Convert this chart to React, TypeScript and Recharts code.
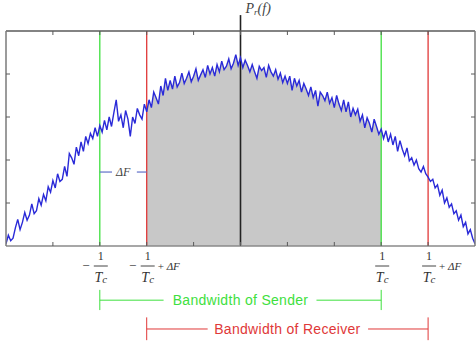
import React from "react";
import {
  ComposedChart,
  Area,
  Line,
  XAxis,
  YAxis,
  ReferenceLine,
  ReferenceDot,
} from "recharts";

// frequency axis: -5 .. 5 in steps of 0.05
const FREQ_START = -5;
const FREQ_STEP = 0.05;

// received power spectrum P_r(f)
const POWER = [
  0.05, 0.25, 0.12, 0.18, 0.42,
  0.62, 0.38, 0.55, 0.78, 0.6,
  0.72, 0.98, 0.75, 0.82, 1.1,
  0.95, 1.2, 1.05, 1.38, 1.25,
  1.52, 1.35, 1.68, 1.5, 1.55,
  1.85, 1.62, 2.15, 2.05, 1.9,
  2.3, 2.1, 2.42, 2.2, 2.55,
  2.38, 2.62, 2.5, 2.75, 2.55,
  2.8, 2.65, 2.92, 2.7, 3.0,
  2.78, 3.1, 3.4, 2.9, 3.05,
  2.75, 3.15, 2.95, 2.55, 3.0,
  2.85, 3.2, 3.05, 2.95, 3.3,
  3.12, 3.4, 3.22, 3.58, 3.45,
  3.3, 3.72, 3.5, 3.9, 3.62,
  3.85, 3.65, 3.95, 3.7, 3.8,
  4.02, 3.78, 3.9, 4.05, 3.82,
  3.95, 4.12, 3.85, 3.98, 4.1,
  3.92, 4.2, 4.0, 4.15, 3.95,
  4.22, 4.05, 4.3, 4.1, 4.18,
  4.35, 4.12, 4.25, 4.45, 4.2,
  4.38, 4.15, 4.32, 4.2, 4.05,
  4.22, 4.05, 3.9, 4.18, 4.08,
  4.15, 3.92, 4.2, 4.05, 3.95,
  4.1, 3.88, 4.02, 3.8, 3.95,
  3.78, 3.95, 3.62, 3.9, 3.72,
  3.85, 3.58, 3.78, 3.65, 3.5,
  3.7, 3.45, 3.62, 3.25, 3.58,
  3.5, 3.38, 3.58, 3.32, 3.45,
  3.22, 3.5, 3.3, 3.15, 3.4,
  3.12, 3.35, 3.0, 3.2, 3.05,
  3.18, 2.9, 3.05, 2.75, 2.98,
  2.85, 2.65, 2.95, 2.78, 2.6,
  2.72, 2.5, 2.68, 2.42, 2.6,
  2.35, 2.55, 2.2, 2.45, 2.25,
  2.1, 2.28, 1.98, 2.05, 1.88,
  2.0, 1.8, 1.72, 1.85, 1.68,
  1.6, 1.5, 1.55, 1.35, 1.42,
  1.18, 1.3, 1.0, 1.12, 0.9,
  0.98, 0.75, 0.82, 0.6, 0.72,
  0.45, 0.55, 0.28, 0.38, 0.18,
  0.05,
];

const SENDER_BAND = [-3, 3];
const RECEIVER_BAND = [-2, 4];
const GRID_TICKS = [-4, -3, -2, -1, 0, 1, 2, 3, 4];
const Y_TICKS = [1, 2, 3, 4];
const EDGE_TICKS = [-3, -2, 3, 4];

// annotation rows (data units, below / above the plot)
const SENDER_ROW = -1.26;
const RECEIVER_ROW = -1.93;
const DELTA_ROW = 1.72;
const AXIS_TOP = 5.37;

const data = POWER.map((p, i) => {
  const f = Math.round((FREQ_START + i * FREQ_STEP) * 100) / 100;
  const inBoth = f >= RECEIVER_BAND[0] && f <= SENDER_BAND[1];
  return { f, power: p, shade: inBoth ? p : null };
});

const GREEN = "#3ee03e";
const RED = "#e03838";
const AXIS = "#5a5a5a";
const SERIF = "'Liberation Serif', 'DejaVu Serif', serif";
const SANS = "'Liberation Sans', Arial, sans-serif";

const NoTick = () => <g />;

const EdgeTick = (props: any) => {
  const { x, y, payload } = props;
  const v = payload.value;
  const neg = v < 0;
  const plus = v === RECEIVER_BAND[0] || v === RECEIVER_BAND[1];
  return (
    <g transform={`translate(${x},${y})`} fill="#333" fontFamily={SERIF}>
      {neg && (
        <text x={-14} y={24} fontSize={13} textAnchor="middle">
          −
        </text>
      )}
      <text x={1} y={14} fontSize={12} textAnchor="middle">
        1
      </text>
      <line x1={-6} x2={8} y1={20} y2={20} stroke="#444" strokeWidth={1} />
      <text x={1} y={36} fontSize={14} fontStyle="italic" textAnchor="middle">
        T
        <tspan fontSize={11} dy={1}>
          c
        </tspan>
      </text>
      {plus && (
        <text x={11} y={24} fontSize={11}>
          +{" "}
          <tspan fontStyle="italic">ΔF</tspan>
        </text>
      )}
    </g>
  );
};

const PrLabel = (props: any) => {
  const { viewBox } = props;
  return (
    <text
      x={viewBox.x + 5}
      y={viewBox.y - 2}
      fill="#444"
      fontFamily={SERIF}
      fontStyle="italic"
      fontSize={14}
    >
      P
      <tspan fontSize={9} dy={2}>
        r
      </tspan>
      <tspan dy={-2}>(f)</tspan>
    </text>
  );
};

const bandText = (value: string, color: string) => ({
  value,
  position: "center" as const,
  fill: color,
  fontSize: 14,
  letterSpacing: 0.3,
  fontFamily: SANS,
});

const App: React.FC = () => {
  return (
    <div style={{ position: "absolute", left: 0, top: 0, background: "#fff" }}>
      <ComposedChart
        width={476}
        height={346}
        data={data}
        margin={{ top: 31, right: 1, bottom: 0, left: 6 }}
      >
        <XAxis
          dataKey="f"
          type="number"
          domain={[-5, 5]}
          allowDataOverflow
          ticks={EDGE_TICKS}
          height={100}
          axisLine={false}
          tickLine={false}
          tickSize={0}
          tickMargin={0}
          interval={0}
          tick={<EdgeTick />}
        />
        <XAxis
          xAxisId="top"
          dataKey="f"
          type="number"
          orientation="top"
          mirror
          domain={[-5, 5]}
          allowDataOverflow
          ticks={GRID_TICKS}
          interval={0}
          tick={<NoTick />}
          tickSize={4}
          tickLine={{ stroke: AXIS }}
          axisLine={{ stroke: AXIS, strokeWidth: 1.5 }}
        />
        <XAxis
          xAxisId="bot"
          dataKey="f"
          type="number"
          orientation="bottom"
          mirror
          domain={[-5, 5]}
          allowDataOverflow
          ticks={GRID_TICKS}
          interval={0}
          tick={<NoTick />}
          tickSize={4}
          tickLine={{ stroke: AXIS }}
          axisLine={{ stroke: "#8a8a8a", strokeWidth: 1.5 }}
        />
        <YAxis
          type="number"
          domain={[0, 5]}
          allowDataOverflow
          ticks={Y_TICKS}
          interval={0}
          mirror
          tick={<NoTick />}
          tickSize={4}
          tickLine={{ stroke: AXIS }}
          axisLine={{ stroke: "#7a7a7a", strokeWidth: 1.5 }}
        />
        <YAxis
          yAxisId="r"
          type="number"
          orientation="right"
          domain={[0, 5]}
          allowDataOverflow
          ticks={Y_TICKS}
          interval={0}
          mirror
          tick={<NoTick />}
          tickSize={4}
          tickLine={{ stroke: AXIS }}
          axisLine={{ stroke: "#7a7a7a", strokeWidth: 1.5 }}
        />

        <Area
          type="linear"
          dataKey="shade"
          stroke="none"
          fill="#c8c8c8"
          fillOpacity={1}
          isAnimationActive={false}
        />

        {SENDER_BAND.map((b) => (
          <ReferenceLine key={`s${b}`} x={b} stroke={GREEN} strokeWidth={1.3} />
        ))}
        {RECEIVER_BAND.map((b) => (
          <ReferenceLine key={`r${b}`} x={b} stroke={RED} strokeWidth={1.3} />
        ))}
        <ReferenceLine
          segment={[
            { x: 0, y: 0 },
            { x: 0, y: AXIS_TOP },
          ]}
          ifOverflow="visible"
          stroke="#222"
          strokeWidth={1.6}
        />
        <ReferenceDot
          x={0}
          y={AXIS_TOP}
          r={0}
          ifOverflow="visible"
          label={<PrLabel />}
        />

        <Line
          type="linear"
          dataKey="power"
          stroke="#2a2ad8"
          strokeWidth={1.4}
          dot={false}
          isAnimationActive={false}
        />

        {/* ΔF marker between the left band edges */}
        <ReferenceLine
          segment={[
            { x: SENDER_BAND[0], y: DELTA_ROW },
            { x: -2.74, y: DELTA_ROW },
          ]}
          stroke="#6070c8"
          strokeWidth={1.2}
        />
        <ReferenceLine
          segment={[
            { x: -2.21, y: DELTA_ROW },
            { x: RECEIVER_BAND[0], y: DELTA_ROW },
          ]}
          stroke="#6070c8"
          strokeWidth={1.2}
        />
        <ReferenceDot
          x={-2.5}
          y={DELTA_ROW}
          r={0}
          label={{
            value: "ΔF",
            position: "center",
            fill: "#444",
            fontSize: 12,
            fontStyle: "italic",
            fontFamily: SERIF,
          }}
        />

        {/* sender bandwidth bracket */}
        <ReferenceLine
          segment={[
            { x: SENDER_BAND[0], y: SENDER_ROW },
            { x: -1.64, y: SENDER_ROW },
          ]}
          ifOverflow="visible"
          stroke={GREEN}
        />
        <ReferenceLine
          segment={[
            { x: 1.62, y: SENDER_ROW },
            { x: SENDER_BAND[1], y: SENDER_ROW },
          ]}
          ifOverflow="visible"
          stroke={GREEN}
        />
        {SENDER_BAND.map((b) => (
          <ReferenceLine
            key={`st${b}`}
            segment={[
              { x: b, y: SENDER_ROW + 0.24 },
              { x: b, y: SENDER_ROW - 0.23 },
            ]}
            ifOverflow="visible"
            stroke={GREEN}
          />
        ))}
        <ReferenceDot
          x={(SENDER_BAND[0] + SENDER_BAND[1]) / 2}
          y={SENDER_ROW}
          r={0}
          ifOverflow="visible"
          label={bandText("Bandwidth of Sender", GREEN)}
        />

        {/* receiver bandwidth bracket */}
        <ReferenceLine
          segment={[
            { x: RECEIVER_BAND[0], y: RECEIVER_ROW },
            { x: -0.7, y: RECEIVER_ROW },
          ]}
          ifOverflow="visible"
          stroke={RED}
        />
        <ReferenceLine
          segment={[
            { x: 2.72, y: RECEIVER_ROW },
            { x: RECEIVER_BAND[1], y: RECEIVER_ROW },
          ]}
          ifOverflow="visible"
          stroke={RED}
        />
        {RECEIVER_BAND.map((b) => (
          <ReferenceLine
            key={`rt${b}`}
            segment={[
              { x: b, y: RECEIVER_ROW + 0.27 },
              { x: b, y: RECEIVER_ROW - 0.26 },
            ]}
            ifOverflow="visible"
            stroke={RED}
          />
        ))}
        <ReferenceDot
          x={(RECEIVER_BAND[0] + RECEIVER_BAND[1]) / 2}
          y={RECEIVER_ROW}
          r={0}
          ifOverflow="visible"
          label={bandText("Bandwidth of Receiver", RED)}
        />
      </ComposedChart>
    </div>
  );
};

export default App;
